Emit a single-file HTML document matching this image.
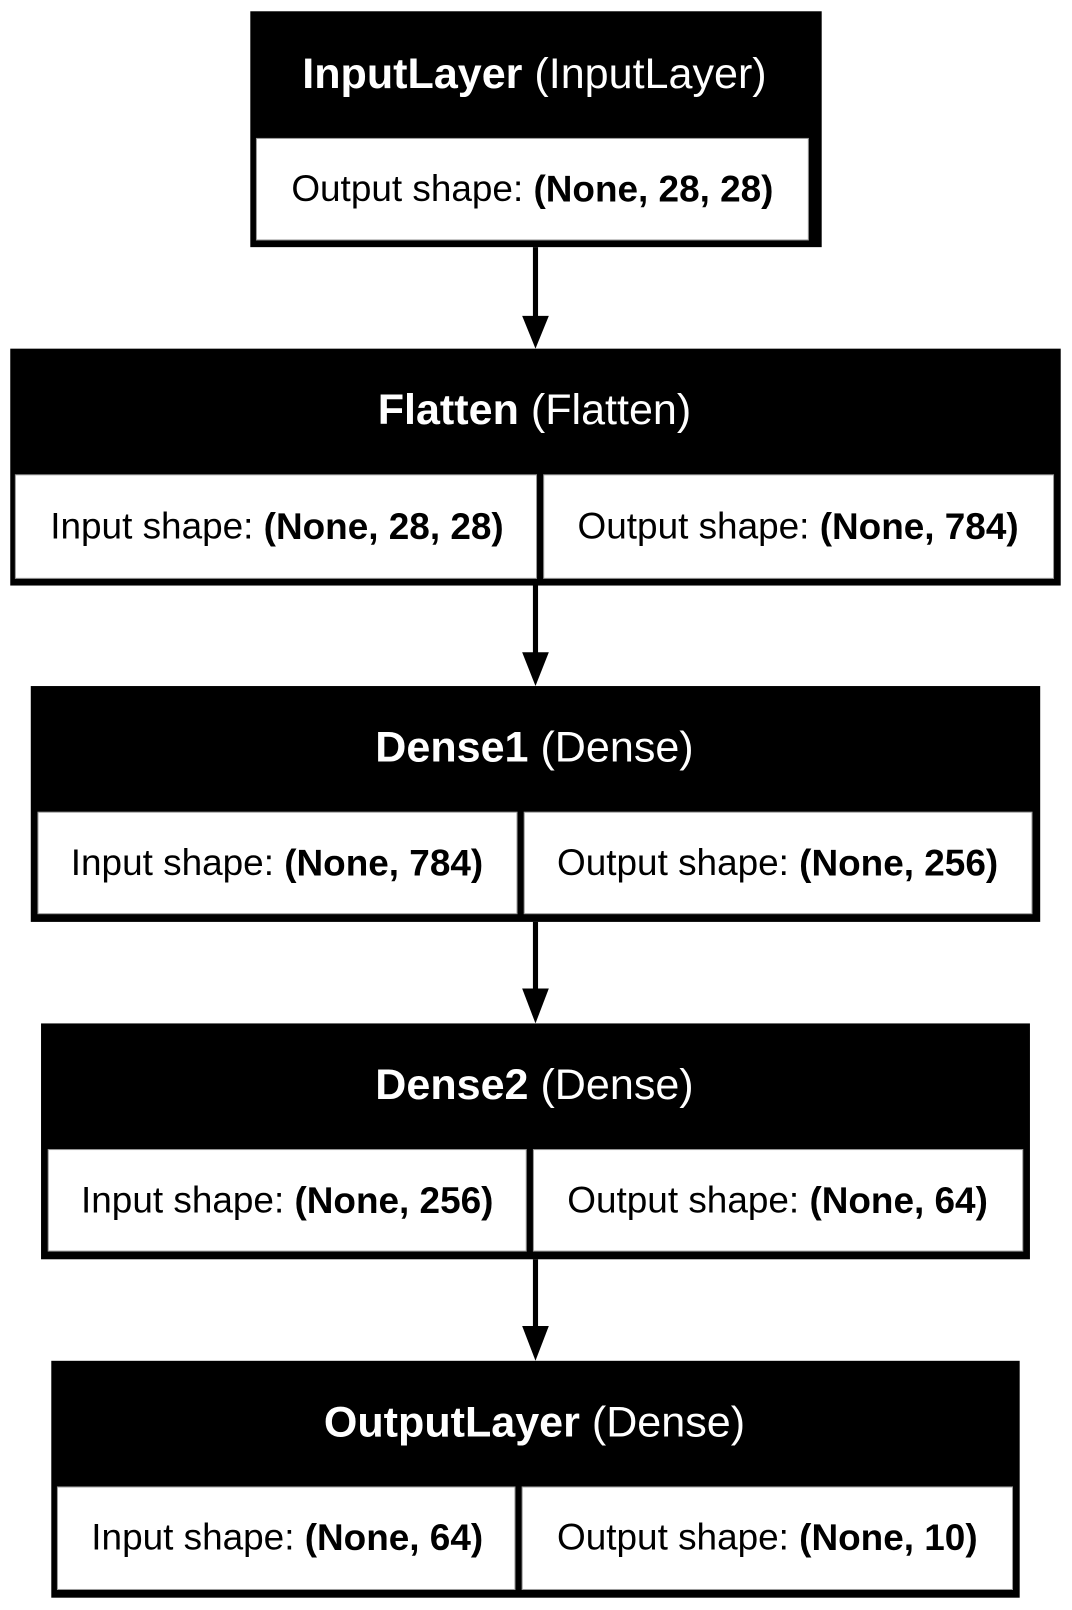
<!DOCTYPE html>
<html><head><style>
html,body{margin:0;padding:0;background:#fff;width:1072px;height:1610px;overflow:hidden}
svg{display:block}
text{font-family:"Liberation Sans",Arial,sans-serif;text-anchor:middle;dominant-baseline:central}
.h{fill:#fff;font-size:42px}
.c{fill:#000;font-size:36px}
.b{font-weight:bold}
</style></head><body>
<svg width="1072" height="1610" viewBox="0 0 1045 1570" preserveAspectRatio="none">
<rect x="244" y="11" width="557" height="230" fill="#000"/>
<rect x="250" y="135" width="538" height="99" fill="#fff" stroke="#999" stroke-width="1"/>
<text class="h" x="521" y="72"><tspan class="b">InputLayer</tspan> (InputLayer)</text>
<text class="c" x="519" y="184">Output shape: <tspan class="b">(None, 28, 28)</tspan></text>
<line x1="522" y1="241" x2="522" y2="312" stroke="#000" stroke-width="5"/>
<polygon points="509,308 535,308 522,340" fill="#000"/>
<rect x="10" y="340" width="1024" height="231" fill="#000"/>
<rect x="15" y="463" width="508" height="101" fill="#fff" stroke="#999" stroke-width="1"/>
<rect x="530" y="463" width="497" height="101" fill="#fff" stroke="#999" stroke-width="1"/>
<text class="h" x="521" y="400"><tspan class="b">Flatten</tspan> (Flatten)</text>
<text class="c" x="270" y="513">Input shape: <tspan class="b">(None, 28, 28)</tspan></text>
<text class="c" x="778" y="513">Output shape: <tspan class="b">(None, 784)</tspan></text>
<line x1="522" y1="571" x2="522" y2="640" stroke="#000" stroke-width="5"/>
<polygon points="509,636 535,636 522,669" fill="#000"/>
<rect x="30" y="669" width="984" height="230" fill="#000"/>
<rect x="37" y="792" width="467" height="99" fill="#fff" stroke="#999" stroke-width="1"/>
<rect x="511" y="792" width="495" height="99" fill="#fff" stroke="#999" stroke-width="1"/>
<text class="h" x="521" y="729"><tspan class="b">Dense1</tspan> (Dense)</text>
<text class="c" x="270" y="841">Input shape: <tspan class="b">(None, 784)</tspan></text>
<text class="c" x="758" y="841">Output shape: <tspan class="b">(None, 256)</tspan></text>
<line x1="522" y1="899" x2="522" y2="968" stroke="#000" stroke-width="5"/>
<polygon points="509,964 535,964 522,998" fill="#000"/>
<rect x="40" y="998" width="964" height="230" fill="#000"/>
<rect x="47" y="1121" width="466" height="99" fill="#fff" stroke="#999" stroke-width="1"/>
<rect x="520" y="1121" width="477" height="99" fill="#fff" stroke="#999" stroke-width="1"/>
<text class="h" x="521" y="1058"><tspan class="b">Dense2</tspan> (Dense)</text>
<text class="c" x="280" y="1170">Input shape: <tspan class="b">(None, 256)</tspan></text>
<text class="c" x="758" y="1170">Output shape: <tspan class="b">(None, 64)</tspan></text>
<line x1="522" y1="1228" x2="522" y2="1297" stroke="#000" stroke-width="5"/>
<polygon points="509,1293 535,1293 522,1327" fill="#000"/>
<rect x="50" y="1327" width="944" height="231" fill="#000"/>
<rect x="56" y="1450" width="446" height="100" fill="#fff" stroke="#999" stroke-width="1"/>
<rect x="509" y="1450" width="478" height="100" fill="#fff" stroke="#999" stroke-width="1"/>
<text class="h" x="521" y="1387"><tspan class="b">OutputLayer</tspan> (Dense)</text>
<text class="c" x="280" y="1499">Input shape: <tspan class="b">(None, 64)</tspan></text>
<text class="c" x="748" y="1499">Output shape: <tspan class="b">(None, 10)</tspan></text>
</svg>
</body></html>
